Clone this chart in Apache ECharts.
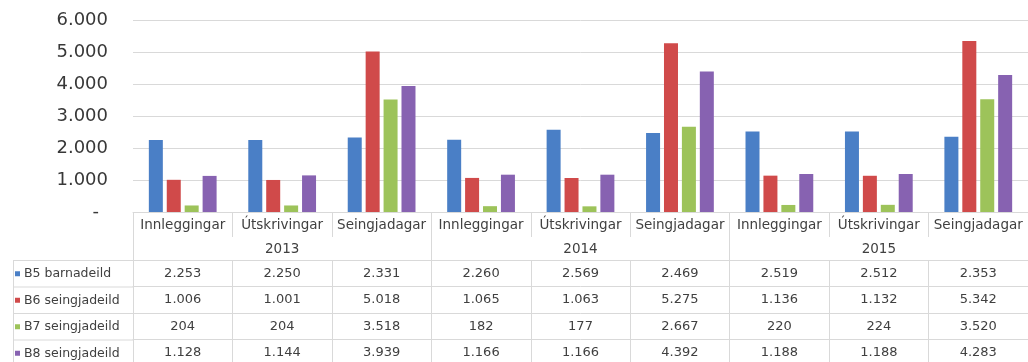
<!DOCTYPE html>
<html>
<head>
<meta charset="utf-8">
<script src="https://cdn.jsdelivr.net/npm/echarts@6/dist/echarts.min.js"></script>
<style>
  html, body { margin: 0; padding: 0; background: #ffffff; }
  #chart { width: 1028px; height: 362px; }
</style>
</head>
<body>
<div id="chart"></div>
<script>
// Patient flow per ward: admissions, discharges and bed-days, 2013-2015
const categories = ['Innleggingar', 'Útskrivingar', 'Seingjadagar'];
const years = ['2013', '2014', '2015'];
const seriesNames = ['B5 barnadeild', 'B6 seingjadeild', 'B7 seingjadeild', 'B8 seingjadeild'];
const b5 = [2253, 2250, 2331, 2260, 2569, 2469, 2519, 2512, 2353];
const b6 = [1006, 1001, 5018, 1065, 1063, 5275, 1136, 1132, 5342];
const b7 = [204, 204, 3518, 182, 177, 2667, 220, 224, 3520];
const b8 = [1128, 1144, 3939, 1166, 1166, 4392, 1188, 1188, 4283];
const yMin = 0, yMax = 6000, yStep = 1000;

const rows = [b5, b6, b7, b8];
const colors = ['#4a7fc6', '#d04a4a', '#9dc35a', '#8762b1'];
const FONT = 'DejaVu Sans';
const TEXT = '#404040';
const LINE = '#d9d9d9';

// one slot per (year, measure) pair
const slots = [];
years.forEach(y => categories.forEach(c => slots.push(y + ' ' + c)));

// thousands separator as a dot
function fmt(n) {
  if (n >= 1000) return Math.floor(n / 1000) + '.' + String(n % 1000).padStart(3, '0');
  return String(n);
}

// table geometry (below the plot)
const AXIS_Y = 212;
const HEAD1 = 25;       // measure-name row
const HEAD2 = 23;       // year row
const ROW = 26.5;       // data rows
const tableTop = HEAD1 + HEAD2;

const baseAxis = {
  type: 'category',
  data: slots,
  gridIndex: 0,
  position: 'bottom',
  boundaryGap: true,
  axisLine: { show: false },
  axisTick: { show: false },
  axisLabel: { show: false },
  splitLine: { show: false }
};

const xAxes = [
  // measure names, directly under the plot
  Object.assign({}, baseAxis, {
    offset: 0,
    axisLine: { show: true, lineStyle: { color: LINE, width: 1 } },
    axisTick: { show: true, interval: 0, length: HEAD1, lineStyle: { color: LINE } },
    axisLabel: {
      show: true, interval: 0, margin: 6,
      fontFamily: FONT, fontSize: 13.5, color: TEXT,
      formatter: (v, i) => categories[i % categories.length]
    }
  }),
  // year row, ruled only at year boundaries
  Object.assign({}, baseAxis, {
    offset: HEAD1,
    axisTick: {
      show: true, length: HEAD2, lineStyle: { color: LINE },
      interval: (i) => i % categories.length === 0
    },
    axisLabel: {
      show: true, interval: 0, margin: 5,
      fontFamily: FONT, fontSize: 13.5, color: TEXT,
      formatter: (v, i) => (i % categories.length === 1 ? years[Math.floor(i / categories.length)] : '')
    }
  })
];

rows.forEach((vals, r) => {
  xAxes.push(Object.assign({}, baseAxis, {
    offset: tableTop + r * ROW,
    axisLine: { show: true, lineStyle: { color: LINE, width: 1 } },
    axisTick: { show: true, interval: 0, length: ROW, lineStyle: { color: LINE } },
    axisLabel: {
      show: true, interval: 0, margin: 7,
      fontFamily: FONT, fontSize: 13, color: TEXT,
      formatter: (v, i) => fmt(vals[i])
    }
  }));
});

// rules for the row-label column at the left of the table
const labelLeft = 13, labelRight = 133;
const graphics = [];
for (let r = 0; r <= rows.length; r++) {
  const y = AXIS_Y + tableTop + r * ROW + 0.5;
  graphics.push({
    type: 'line', silent: true,
    shape: { x1: labelLeft, y1: y, x2: labelRight, y2: y },
    style: { stroke: LINE, lineWidth: 1 }
  });
}
graphics.push({
  type: 'line', silent: true,
  shape: { x1: labelLeft + 0.5, y1: AXIS_Y + tableTop, x2: labelLeft + 0.5, y2: AXIS_Y + tableTop + rows.length * ROW },
  style: { stroke: LINE, lineWidth: 1 }
});

// one legend entry per table row, acting as the row header
const LEG_H = 15;
const legends = seriesNames.map((name, r) => ({
  orient: 'horizontal',
  left: 15,
  top: AXIS_Y + tableTop + r * ROW + (ROW - LEG_H) / 2 + 0.5,
  padding: 0,
  itemGap: 0,
  itemWidth: 5,
  itemHeight: 5,
  icon: 'rect',
  selectedMode: false,
  data: [name],
  textStyle: { fontFamily: FONT, fontSize: 12.5, color: TEXT, lineHeight: LEG_H, padding: [0, 0, 0, -1] }
}));

const option = {
  backgroundColor: '#ffffff',
  animation: false,
  color: colors,
  grid: { left: 133, top: 20, width: 896, height: AXIS_Y - 20, containLabel: false },
  legend: legends,
  xAxis: xAxes,
  yAxis: {
    type: 'value',
    min: yMin, max: yMax, interval: yStep,
    axisLine: { show: false },
    axisTick: { show: false },
    splitLine: { show: true, lineStyle: { color: LINE, width: 1 } },
    axisLabel: {
      margin: 25,
      fontFamily: FONT, fontSize: 18, color: '#383838',
      formatter: v => (v === 0 ? '-\u2002' : fmt(v))
    }
  },
  series: rows.map((vals, r) => ({
    name: seriesNames[r],
    type: 'bar',
    xAxisIndex: 0,
    data: vals,
    barWidth: 14,
    barGap: '28%',
    itemStyle: { color: colors[r] }
  })),
  graphic: graphics
};

const chart = echarts.init(document.getElementById('chart'), null, { renderer: 'canvas' });
chart.setOption(option);
</script>
</body>
</html>
